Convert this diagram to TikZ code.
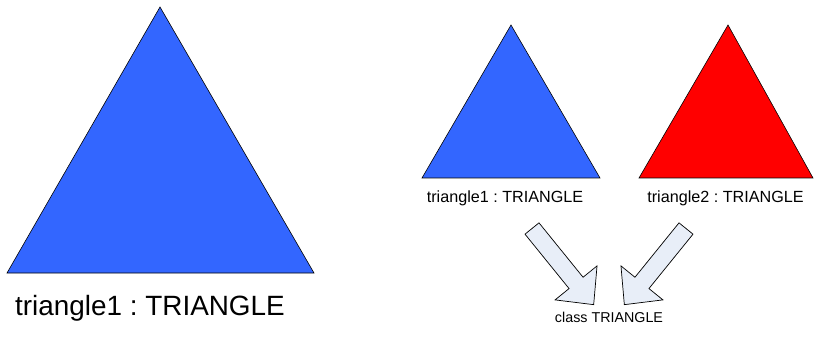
\documentclass[tikz,border=0pt]{standalone}
\usepackage{fontspec}
\setmainfont{Liberation Sans}
\frenchspacing
\definecolor{triblue}{RGB}{51,102,255}
\definecolor{trired}{RGB}{255,0,0}
\definecolor{arrowfill}{RGB}{232,238,248}
\tikzset{
  tri/.style={draw=black,line width=0.5pt,line join=miter},
  biglabel/.style={anchor=base,inner sep=0pt,font=\fontsize{23.8}{28}\selectfont},
  smalllabel/.style={anchor=base,inner sep=0pt,font=\fontsize{13.8}{16}\selectfont},
  classlabel/.style={anchor=base,inner sep=0pt,font=\fontsize{12.2}{14}\selectfont},
  blockarrow/.pic={
    \draw[fill=arrowfill,line width=0.6pt,line join=miter]
      (0,-9)--(70,-9)--(70,-27)--(98,0)--(70,27)--(70,9)--(0,9)--cycle;
  }
}
\begin{document}
\begin{tikzpicture}[x=0.03cm,y=-0.03cm]
  \useasboundingbox (0,0) rectangle (814,344);
  % large triangle
  \coordinate (A) at (7,273);
  \coordinate (B) at (160,7);
  \coordinate (C) at (314,273);
  \draw[tri,fill=triblue] (A)--(B)--(C)--cycle;
  \node[biglabel] (big) at (150,315) {triangle1 : TRIANGLE};
  % two small triangles
  \foreach \name/\lft/\apx/\rgt/\col in {one/422/511/600/triblue,two/639/728/813/trired} {
    \coordinate (\name-l) at (\lft,178);
    \coordinate (\name-t) at (\apx,25);
    \coordinate (\name-r) at (\rgt,178);
    \draw[tri,fill=\col] (\name-l)--(\name-t)--(\name-r)--cycle;
  }
  \node[smalllabel] (lblone) at (505,203) {triangle1 : TRIANGLE};
  \node[smalllabel] (lbltwo) at (725.5,203) {triangle2 : TRIANGLE};
  \node[classlabel] (cls) at (609,322) {class TRIANGLE};
  % arrows towards the class
  \coordinate (tailone) at (532,228.5);
  \coordinate (tailtwo) at (686,228.5);
  \pic[rotate=-51] at (tailone) {blockarrow};
  \pic[rotate=-129] at (tailtwo) {blockarrow};
\end{tikzpicture}
\end{document}
